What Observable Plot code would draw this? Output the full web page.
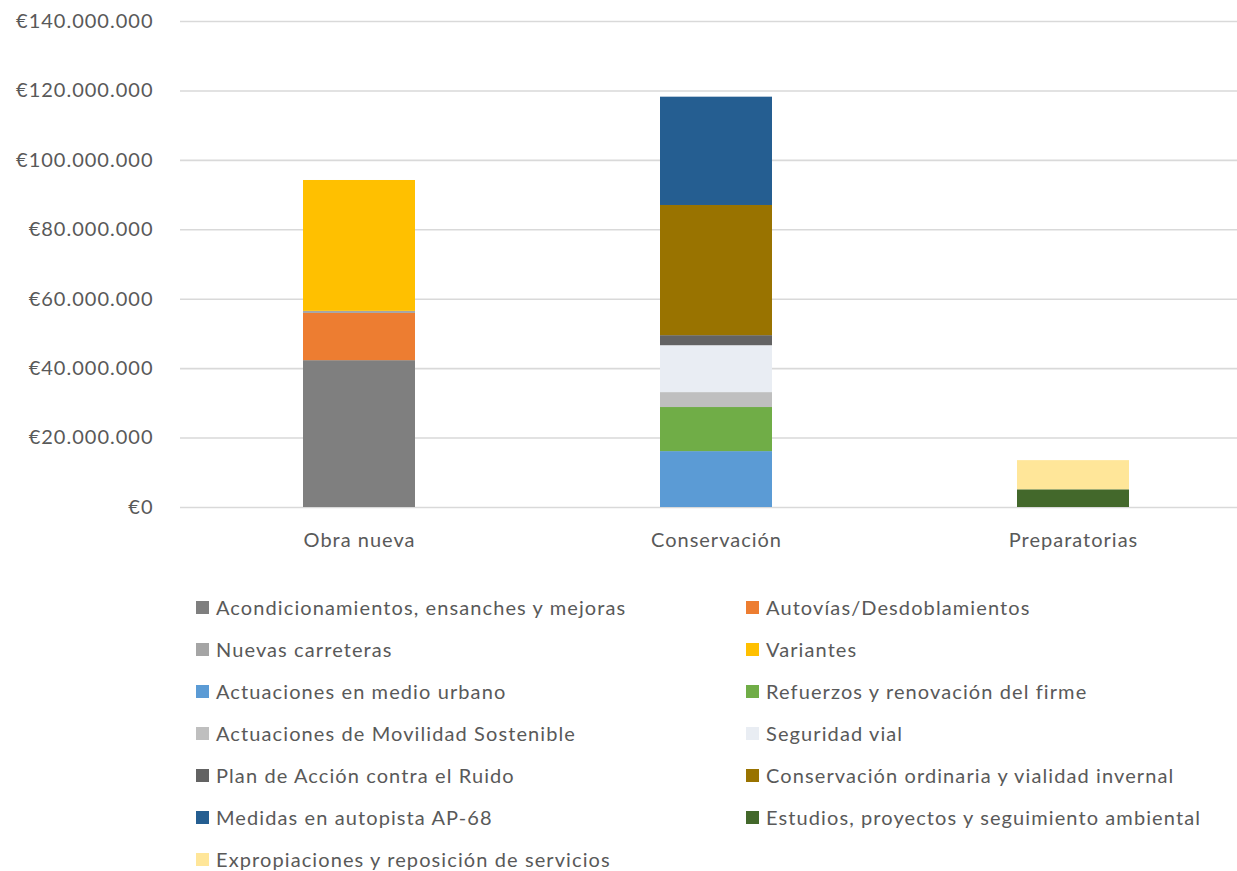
<!DOCTYPE html>
<html>
<head>
<meta charset="utf-8">
<script src="https://cdn.jsdelivr.net/npm/d3@7"></script>
<script src="https://cdn.jsdelivr.net/npm/@observablehq/plot@0.6"></script>
<style>
  html, body { margin: 0; padding: 0; background: #fff; overflow: hidden; }
  #wrap { position: relative; width: 1237px; height: 871px; font-family: Lato, "Open Sans", sans-serif; color: #595959; }
  #chart svg { display: block; }
  #chart svg text { letter-spacing: 1px; }
  .leg { position: absolute; display: flex; align-items: center; font-size: 20px; letter-spacing: 1.1px; white-space: nowrap; color: #595959; }
  .leg .sw { width: 13px; height: 13px; margin-right: 7px; flex: none; }
</style>
</head>
<body>
<div id="wrap">
  <div id="chart"></div>
  <div id="legend"></div>
</div>
<script>
const categories = ["Obra nueva", "Conservación", "Preparatorias"];
const seriesNames = [
  "Acondicionamientos, ensanches y mejoras",
  "Autovías/Desdoblamientos",
  "Nuevas carreteras",
  "Variantes",
  "Actuaciones en medio urbano",
  "Refuerzos y renovación del firme",
  "Actuaciones de Movilidad Sostenible",
  "Seguridad vial",
  "Plan de Acción contra el Ruido",
  "Conservación ordinaria y vialidad invernal",
  "Medidas en autopista AP-68",
  "Estudios, proyectos y seguimiento ambiental",
  "Expropiaciones y reposición de servicios"
];
const seriesCategory = [
  "Obra nueva", "Obra nueva", "Obra nueva", "Obra nueva",
  "Conservación", "Conservación", "Conservación", "Conservación", "Conservación", "Conservación", "Conservación",
  "Preparatorias", "Preparatorias"
];
const seriesValues = [
  42300000, 13600000, 600000, 37700000,
  16100000, 12700000, 4300000, 13500000, 2900000, 37500000, 31200000,
  5100000, 8400000
];
const seriesColors = [
  "#7f7f7f", "#ed7d31", "#a5a5a5", "#ffc000",
  "#5b9bd5", "#70ad47", "#bfbfbf", "#e9edf3", "#636363", "#997300", "#255e91",
  "#43682b", "#ffe699"
];
const yTicks = [0, 20000000, 40000000, 60000000, 80000000, 100000000, 120000000, 140000000];

const rows = seriesNames.map((s, i) => ({series: s, category: seriesCategory[i], value: seriesValues[i]}));

const locale = d3.formatLocale({decimal: ",", thousands: ".", grouping: [3], currency: ["€", ""]});
const fmt = locale.format("$,.0f");

const W = 1237, H = 560;
const chart = Plot.plot({
  width: W,
  height: H,
  marginLeft: 180,
  marginRight: 0,
  marginTop: 21,
  marginBottom: 53,
  style: {fontFamily: "Lato, 'Open Sans', sans-serif", fontSize: "20px", color: "#595959", background: "#fff"},
  x: {domain: categories, range: [180, 1252.5], paddingInner: 0.687, paddingOuter: 0.3435, label: null},
  y: {domain: [0, 140000000], label: null},
  color: {domain: seriesNames, range: seriesColors},
  marks: [
    Plot.ruleY(yTicks, {stroke: "#d9d9d9", strokeWidth: 1.6}),
    Plot.barY(rows, Plot.stackY({x: "category", y: "value", fill: "series", order: null})),
    Plot.axisY(yTicks, {tickSize: 0, tickPadding: 27, tickFormat: fmt, fontSize: 20, fill: "#595959"}),
    Plot.axisX({tickSize: 0, tickPadding: 25, fontSize: 20, fill: "#595959"})
  ]
});
document.getElementById("chart").appendChild(chart);

// Legend (two columns, row-major)
const legend = document.getElementById("legend");
seriesNames.forEach((name, i) => {
  const col = i % 2, row = Math.floor(i / 2);
  const el = document.createElement("div");
  el.className = "leg";
  el.style.left = (col === 0 ? 196 : 746) + "px";
  el.style.top = (607 + row * 42 - 13) + "px";
  el.style.height = "26px";
  const sw = document.createElement("span");
  sw.className = "sw";
  sw.style.background = seriesColors[i];
  const tx = document.createElement("span");
  tx.textContent = name;
  el.appendChild(sw);
  el.appendChild(tx);
  legend.appendChild(el);
});
</script>
</body>
</html>
